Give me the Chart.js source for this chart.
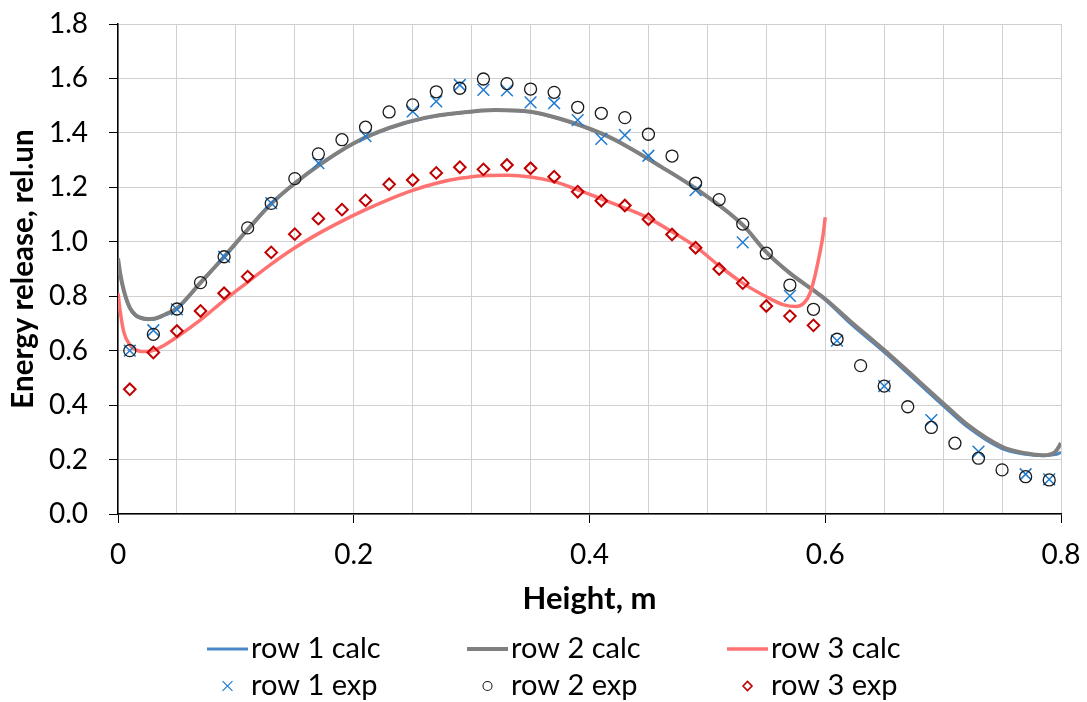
<!DOCTYPE html>
<html>
<head>
<meta charset="utf-8">
<script src="https://cdn.jsdelivr.net/npm/chart.js@4.4.1/dist/chart.umd.min.js"></script>
<style>
  html, body { margin: 0; padding: 0; background: #ffffff; }
  #wrap { width: 1087px; height: 702px; position: relative; }
</style>
</head>
<body>
<div id="wrap"><canvas id="c" width="1087" height="702"></canvas></div>
<script>
// ---------------- DATA ----------------
const xTickValues = [0, 0.2, 0.4, 0.6, 0.8];
const xTickLabels = ['0', '0.2', '0.4', '0.6', '0.8'];
const yTickLabels = ['0.0', '0.2', '0.4', '0.6', '0.8', '1.0', '1.2', '1.4', '1.6', '1.8'];

const seriesLabels = ['row 1 calc', 'row 2 calc', 'row 3 calc', 'row 1 exp', 'row 2 exp', 'row 3 exp'];

// calculated curves (rows 1 and 2 share the same heights)
const calcHeights = [0, 0.002, 0.005, 0.01, 0.015, 0.02, 0.025, 0.03, 0.04, 0.05, 0.07, 0.09, 0.11, 0.13, 0.15, 0.17, 0.2, 0.23, 0.26, 0.29, 0.32, 0.35, 0.375, 0.41, 0.43, 0.46, 0.49, 0.53, 0.55, 0.57, 0.59, 0.6, 0.62, 0.65, 0.7, 0.72, 0.75, 0.77, 0.785, 0.795, 0.8];
const row1Calc = [0.937, 0.878, 0.818, 0.756, 0.728, 0.718, 0.714, 0.715, 0.731, 0.754, 0.848, 0.943, 1.043, 1.139, 1.214, 1.279, 1.361, 1.417, 1.454, 1.473, 1.483, 1.477, 1.451, 1.397, 1.354, 1.277, 1.195, 1.061, 0.961, 0.884, 0.82, 0.787, 0.705, 0.595, 0.398, 0.322, 0.24, 0.219, 0.214, 0.218, 0.226];
const row2Calc = [0.939, 0.88, 0.82, 0.758, 0.73, 0.72, 0.716, 0.717, 0.733, 0.756, 0.85, 0.945, 1.045, 1.14, 1.215, 1.28, 1.362, 1.418, 1.455, 1.474, 1.484, 1.478, 1.452, 1.398, 1.355, 1.278, 1.196, 1.062, 0.962, 0.885, 0.822, 0.79, 0.713, 0.602, 0.407, 0.33, 0.247, 0.223, 0.216, 0.228, 0.26];

const row3CalcHeights = [0, 0.002, 0.005, 0.01, 0.015, 0.02, 0.025, 0.03, 0.04, 0.05, 0.07, 0.09, 0.11, 0.13, 0.15, 0.17, 0.19, 0.21, 0.23, 0.25, 0.27, 0.29, 0.31, 0.33, 0.35, 0.37, 0.39, 0.41, 0.43, 0.45, 0.47, 0.49, 0.51, 0.53, 0.55, 0.565, 0.575, 0.582, 0.587, 0.591, 0.595, 0.598, 0.6];
const row3Calc = [0.811, 0.74, 0.667, 0.622, 0.603, 0.597, 0.597, 0.601, 0.622, 0.65, 0.713, 0.785, 0.852, 0.918, 0.978, 1.030, 1.076, 1.118, 1.156, 1.189, 1.215, 1.233, 1.243, 1.244, 1.238, 1.221, 1.191, 1.158, 1.124, 1.087, 1.037, 0.982, 0.912, 0.848, 0.798, 0.768, 0.762, 0.775, 0.81, 0.87, 0.95, 1.02, 1.09];

// experimental points
const row1ExpHeights = [0.01, 0.03, 0.05, 0.09, 0.13, 0.17, 0.21, 0.25, 0.27, 0.29, 0.31, 0.33, 0.35, 0.37, 0.39, 0.41, 0.43, 0.45, 0.49, 0.53, 0.57, 0.61, 0.65, 0.69, 0.73, 0.77, 0.79];
const row1Exp = [0.60, 0.675, 0.752, 0.945, 1.142, 1.289, 1.388, 1.479, 1.516, 1.576, 1.558, 1.556, 1.512, 1.509, 1.447, 1.378, 1.392, 1.316, 1.19, 0.998, 0.801, 0.637, 0.47, 0.345, 0.229, 0.146, 0.127];

const row2ExpHeights = [0.01, 0.03, 0.05, 0.07, 0.09, 0.11, 0.13, 0.15, 0.17, 0.19, 0.21, 0.23, 0.25, 0.27, 0.29, 0.31, 0.33, 0.35, 0.37, 0.39, 0.41, 0.43, 0.45, 0.47, 0.49, 0.51, 0.53, 0.55, 0.57, 0.59, 0.61, 0.63, 0.65, 0.67, 0.69, 0.71, 0.73, 0.75, 0.77, 0.79];
const row2Exp = [0.60, 0.66, 0.753, 0.85, 0.945, 1.051, 1.141, 1.232, 1.323, 1.375, 1.421, 1.477, 1.503, 1.551, 1.564, 1.598, 1.581, 1.561, 1.549, 1.494, 1.472, 1.456, 1.395, 1.315, 1.215, 1.155, 1.065, 0.958, 0.841, 0.752, 0.642, 0.545, 0.47, 0.394, 0.318, 0.26, 0.205, 0.162, 0.137, 0.125];

const row3ExpHeights = [0.01, 0.03, 0.05, 0.07, 0.09, 0.11, 0.13, 0.15, 0.17, 0.19, 0.21, 0.23, 0.25, 0.27, 0.29, 0.31, 0.33, 0.35, 0.37, 0.39, 0.41, 0.43, 0.45, 0.47, 0.49, 0.51, 0.53, 0.55, 0.57, 0.59];
const row3Exp = [0.458, 0.593, 0.672, 0.746, 0.811, 0.872, 0.961, 1.028, 1.085, 1.118, 1.152, 1.211, 1.227, 1.253, 1.274, 1.266, 1.282, 1.27, 1.239, 1.184, 1.151, 1.133, 1.083, 1.027, 0.978, 0.90, 0.848, 0.764, 0.727, 0.693];

// ---------------- STYLE ----------------
const FONT = 'Lato, "Open Sans", sans-serif';
const GRID = '#d0d0d0';
const LEG = { colX: [207, 467, 727], rowY: [649, 686], lineLen: 41, textGap: 44, fontSize: 29 };

function toXY(xs, ys) { return xs.map((x, i) => ({ x: x, y: ys[i] })); }
function isMajorX(v) { return xTickValues.some(m => Math.abs(m - v) < 1e-9); }

function drawMarker(ctx, style, x, y, r, color, lw) {
  ctx.save();
  ctx.strokeStyle = color; ctx.lineWidth = lw;
  ctx.beginPath();
  if (style === 'crossRot') {
    const d = r * Math.SQRT1_2;
    ctx.moveTo(x - d, y - d); ctx.lineTo(x + d, y + d);
    ctx.moveTo(x - d, y + d); ctx.lineTo(x + d, y - d);
  } else if (style === 'circle') {
    ctx.arc(x, y, r, 0, Math.PI * 2);
  } else if (style === 'rectRot') {
    ctx.moveTo(x - r, y); ctx.lineTo(x, y - r); ctx.lineTo(x + r, y); ctx.lineTo(x, y + r); ctx.closePath();
  }
  ctx.stroke();
  ctx.restore();
}

const gridLegend = {
  id: 'gridLegend',
  afterDraw(chart) {
    const ctx = chart.ctx;
    ctx.save();
    ctx.font = LEG.fontSize + 'px ' + FONT;
    ctx.textBaseline = 'middle';
    ctx.textAlign = 'left';
    chart.data.datasets.forEach((d, i) => {
      const col = i % 3, row = Math.floor(i / 3);
      const x0 = LEG.colX[col], y = LEG.rowY[row];
      if (d.showLine) {
        ctx.save();
        ctx.strokeStyle = d.borderColor; ctx.lineWidth = d.borderWidth;
        ctx.beginPath(); ctx.moveTo(x0, y); ctx.lineTo(x0 + LEG.lineLen, y); ctx.stroke();
        ctx.restore();
      } else {
        drawMarker(ctx, d.pointStyle, x0 + LEG.lineLen / 2, y, d.legendR, d.borderColor, d.pointBorderWidth * 0.8);
      }
      ctx.fillStyle = '#000';
      ctx.fillText(d.label, x0 + LEG.textGap, y);
    });
    ctx.restore();
  }
};

const lineBase = { showLine: true, pointRadius: 0, pointHoverRadius: 0, cubicInterpolationMode: 'monotone', backgroundColor: 'rgba(0,0,0,0)' };
const pointBase = { showLine: false, backgroundColor: 'rgba(0,0,0,0)' };

const datasets = [
  Object.assign({}, lineBase, { label: seriesLabels[0], data: toXY(calcHeights, row1Calc), borderColor: '#4a86c8', borderWidth: 3, order: 6 }),
  Object.assign({}, lineBase, { label: seriesLabels[1], data: toXY(calcHeights, row2Calc), borderColor: '#808080', borderWidth: 4, order: 5 }),
  Object.assign({}, lineBase, { label: seriesLabels[2], data: toXY(row3CalcHeights, row3Calc), borderColor: '#ff7272', borderWidth: 3.5, order: 4 }),
  Object.assign({}, pointBase, { label: seriesLabels[3], data: toXY(row1ExpHeights, row1Exp), pointStyle: 'crossRot', pointRadius: 8.3, pointBorderWidth: 1.5, borderColor: '#1f7bd0', legendR: 7, order: 3 }),
  Object.assign({}, pointBase, { label: seriesLabels[4], data: toXY(row2ExpHeights, row2Exp), pointStyle: 'circle', pointRadius: 6, pointBorderWidth: 1.3, borderColor: '#1a1a1a', legendR: 4.5, order: 2 }),
  Object.assign({}, pointBase, { label: seriesLabels[5], data: toXY(row3ExpHeights, row3Exp), pointStyle: 'rectRot', pointRadius: 5.8, pointBorderWidth: 2, borderColor: '#c00000', legendR: 4.5, order: 1 })
];

new Chart(document.getElementById('c'), {
  type: 'scatter',
  data: { datasets: datasets },
  options: {
    responsive: false,
    devicePixelRatio: 1,
    animation: false,
    events: [],
    layout: { padding: { left: 0, right: 26, top: 24, bottom: 80 } },
    plugins: { legend: { display: false }, tooltip: { enabled: false } },
    scales: {
      x: {
        type: 'linear', min: 0, max: 0.8,
        afterFit: (s) => { s.height = 108; s.paddingLeft = 0; s.paddingRight = 0; },
        ticks: {
          stepSize: 0.05, autoSkip: false, maxRotation: 0, padding: 15,
          color: '#000', font: { family: FONT, size: 28 },
          callback: (v) => { const i = xTickValues.findIndex(m => Math.abs(m - v) < 1e-9); return i >= 0 ? xTickLabels[i] : ''; }
        },
        grid: { color: GRID, lineWidth: 1, tickLength: 9, tickColor: (c) => (c.tick && isMajorX(c.tick.value)) ? '#000' : 'rgba(0,0,0,0)' },
        border: { color: '#000', width: 1.5 },
        title: { display: true, text: 'Height, m', color: '#000', font: { family: FONT, size: 31, weight: 'bold' }, padding: { top: 0, bottom: 4 } }
      },
      y: {
        type: 'linear', min: 0, max: 1.8,
        afterFit: (s) => { s.width = 118; s.paddingTop = 0; s.paddingBottom = 0; },
        ticks: {
          stepSize: 0.2, padding: 21, color: '#000', font: { family: FONT, size: 28 },
          callback: (v) => { const i = Math.round(v / 0.2); return yTickLabels[i]; }
        },
        grid: { color: GRID, lineWidth: 1, tickLength: 9, tickColor: '#000' },
        border: { color: '#000', width: 1.5 },
        title: { display: true, text: 'Energy release, rel.un', color: '#000', font: { family: FONT, size: 29.5, weight: 'bold' }, padding: { top: 6, bottom: 0 } }
      }
    }
  },
  plugins: [gridLegend]
});
</script>
</body>
</html>
